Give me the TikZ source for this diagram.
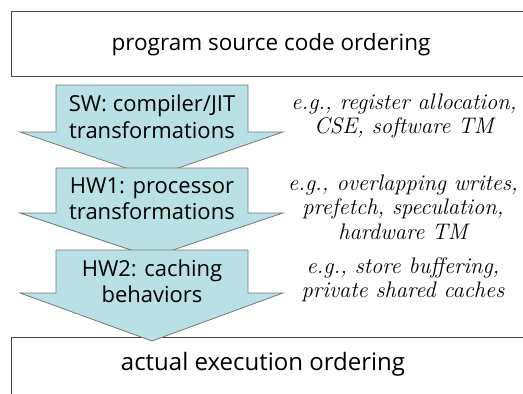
\documentclass[tikz,border=0pt]{standalone}
\usepackage{fontspec}
\newfontfamily\boxfont{Open Sans}
\definecolor{arrowfill}{RGB}{185,224,228}
\definecolor{arrowline}{RGB}{120,120,120}
\definecolor{boxline}{RGB}{70,70,70}
\tikzset{
  frame/.style={draw=boxline, line width=0.9pt},
  bigarrow/.style={fill=arrowfill, draw=arrowline, line width=0.8pt, line join=miter},
  steptext/.style={font=\boxfont\fontsize{22}{26.5}\selectfont, align=center, inner sep=0pt},
  boxtext/.style={font=\boxfont\fontsize{22.5}{24}\selectfont, inner sep=0pt},
  note/.style={font=\itshape\fontsize{22.5}{24.5}\selectfont, align=center, inner sep=0pt}
}
\begin{document}
\begin{tikzpicture}[x=1pt,y=-1pt]
\useasboundingbox (0,0) rectangle (523,394);
\clip (0,0) rectangle (523,394);
% top box
\draw[frame] (11,11) rectangle (540,76);
\node[boxtext] (src) at (271,45) {program source code ordering};
% arrow 1
\draw[bigarrow] (56,85) -- (248,85) -- (248,132) -- (283,132) -- (152,177) -- (20,132) -- (56,132) -- cycle;
\node[steptext] (sw) at (152,116.5) {SW: compiler/JIT\\transformations};
% arrow 2
\draw[bigarrow] (56,168) -- (248,168) -- (248,213) -- (283,213) -- (152,257) -- (20,213) -- (56,213) -- cycle;
\node[steptext] (hwa) at (152,199) {HW1: processor\\transformations};
% bottom box
\draw[frame] (11,337) rectangle (540,420);
\node[boxtext, font=\boxfont\fontsize{24}{26}\selectfont] (act) at (263,364) {actual execution ordering};
% arrow 3
\draw[bigarrow] (56,250) -- (248,250) -- (248,293) -- (283,293) -- (152,341) -- (20,293) -- (56,293) -- cycle;
\node[steptext] (hwb) at (152,281) {HW2: caching\\behaviors};
% notes
\node[note] (n1) at (404,116) {e.g., register allocation,\\CSE, software TM};
\node[note] (n2) at (403,207) {e.g., overlapping writes,\\prefetch, speculation,\\hardware TM};
\node[note] (n3) at (403,280) {e.g., store buffering,\\private shared caches};
\end{tikzpicture}
\end{document}
